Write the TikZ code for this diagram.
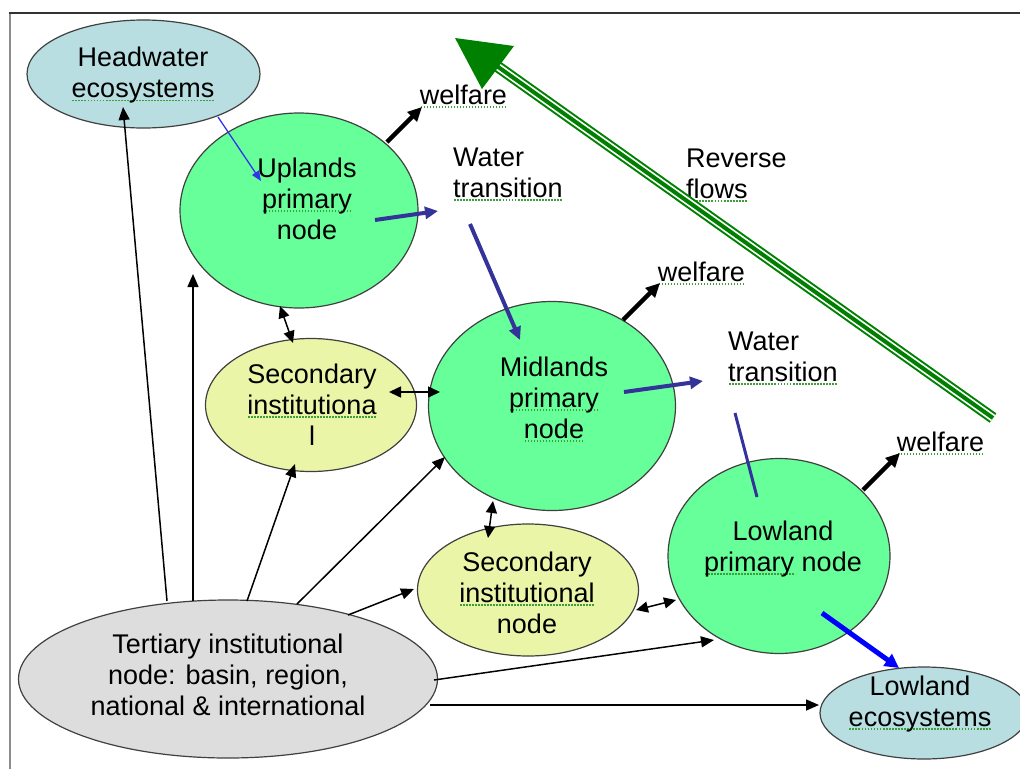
\documentclass[tikz,border=0pt]{standalone}
\usepackage{fontspec}
\setmainfont{Liberation Sans}
\usetikzlibrary{arrows.meta,shapes.geometric,calc}
\definecolor{nodegreen}{HTML}{66FF99}
\definecolor{secyellow}{HTML}{EBF5A8}
\definecolor{ecoblue}{HTML}{B8DEE2}
\definecolor{tertgray}{HTML}{DDDDDD}
\definecolor{flowblue}{HTML}{333399}
\definecolor{thinblue}{HTML}{3333EE}
\definecolor{revgreen}{HTML}{008000}
\definecolor{sqgreen}{HTML}{3C9F3C}
\newsavebox\sqbox
\newcommand\sq[1]{\sbox\sqbox{#1}\rlap{\textcolor{sqgreen}{\hbox to \wd\sqbox{\xleaders\hbox to 3pt{\hss\rule[-3.5pt]{1.8pt}{1.8pt}\hss}\hfill}}}\usebox\sqbox}
\begin{document}
\begin{tikzpicture}[x=1pt,y=-1pt,
  ell/.style={ellipse, draw=black!75, line width=1.2pt, inner sep=0pt},
  txt/.style={font=\fontsize{27}{31}\selectfont, align=center, inner sep=0pt},
  ltxt/.style={txt, align=left, anchor=west},
  thinarr/.style={line width=1.5pt, -{Triangle[length=13pt,width=11pt]}},
  dblarr/.style={line width=1.5pt, {Triangle[length=12pt,width=11pt]}-{Triangle[length=12pt,width=11pt]}},
  welf/.style={line width=4.5pt, -{Triangle[length=14pt,width=13pt]}},
  flow/.style={flowblue, line width=4pt, -{Triangle[length=13pt,width=12pt]}},
]
\useasboundingbox (0,0) rectangle (1020,769);
% frame
\draw[black!45, line width=2pt] (9.5,13) -- (9.5,769);
\draw[black!80, line width=2.5pt] (8.5,13) -- (1020,13);

% shapes
\node[ell, fill=ecoblue, minimum width=233pt, minimum height=108pt] (hw) at (143.5,74) {};
\node[ell, fill=nodegreen, minimum width=238pt, minimum height=195pt] (up) at (299,210.5) {};
\node[ell, fill=secyellow, minimum width=211pt, minimum height=133pt] (secL) at (311,405) {};
\node[ell, fill=nodegreen, minimum width=247pt, minimum height=209pt] (mid) at (552,406) {};
\node[ell, fill=secyellow, minimum width=221pt, minimum height=132pt] (secB) at (528,590) {};
\node[ell, fill=nodegreen, minimum width=222pt, minimum height=195pt] (low) at (779,556) {};
\node[ell, fill=tertgray, minimum width=419pt, minimum height=158pt] (tert) at (228,679) {};
\node[ell, fill=ecoblue, minimum width=208pt, minimum height=92pt] (leco) at (924,713) {};

% texts
\node[txt] (hwT) at (143,75.5) {Headwater\\\sq{ecosystems}};
\node[txt] (upT) at (307,199) {Uplands\\\sq{primary}\\node};
\node[txt] (secLT) at (312,405) {Secondary\\\sq{institutiona}\\l};
\node[txt] (midT) at (554,399) {Midlands\\\sq{primary}\\\sq{node}};
\node[txt] (secBT) at (527,593) {Secondary\\\sq{institutional}\\node};
\node[txt] (lowT) at (783,549) {Lowland\\\sq{primary} node};
\node[txt] (tertT) at (228,675) {Tertiary institutional\\node: basin, region,\\national \& international};
\node[txt] (lecoT) at (920,704) {Lowland\\\sq{ecosystems}};
\node[ltxt] (wt1) at (453,174) {Water\\\sq{transition}};
\node[ltxt] (wt2) at (728,358) {Water\\\sq{transition}};
\node[ltxt] (rf) at (686,175) {Reverse\\\sq{flows}};
\node[txt] (wf1) at (463.5,96) {\sq{welfare}};
\node[txt] (wf2) at (701.5,273) {\sq{welfare}};
\node[txt] (wf3) at (940.5,443) {\sq{welfare}};

% institutional connectors
\draw[thinarr] ($(tert)+(-61,-78)$) -- ($(hw)+(-20.5,33)$);
\draw[thinarr] ($(tert)+(-35,-78)$) -- ($(up)+(-106,63.5)$);
\draw[dblarr] ($(up)+(-19,95.5)$) -- ($(secL)+(-18,-62)$);
\draw[thinarr] ($(tert)+(19,-78)$) -- ($(secL)+(-16,59)$);
\draw[thinarr] ($(tert)+(69,-75)$) -- ($(mid)+(-107,51)$);
\draw[dblarr] ($(secL)+(78,-13)$) -- ($(mid)+(-112,-14)$);
\draw[dblarr] ($(mid)+(-59,95)$) -- ($(secB)+(-40,-52)$);
\draw[thinarr] ($(tert)+(120,-64)$) -- ($(secB)+(-114,-1)$);
\draw[dblarr] ($(secB)+(108,20)$) -- ($(low)+(-103,44)$);
\draw[thinarr] ($(tert)+(206,1)$) -- ($(low)+(-65,84)$);
\draw[thinarr] ($(tert)+(202,26)$) -- ($(leco)+(-105,-8)$);

% water flows
\draw[thinblue, line width=1.3pt, -{Triangle[length=10pt,width=8pt]}] ($(hw)+(74.5,43)$) -- ($(up)+(-38,-29.5)$);
\draw[flow] ($(up)+(76,9.5)$) -- ($(wt1.west)+(-15,37)$);
\draw[flow] ($(wt1.west)+(17,50)$) -- ($(mid)+(-32,-66)$);
\draw[flow] ($(mid)+(72,-14)$) -- ($(wt2.west)+(-25,23)$);
\draw[flowblue, line width=3pt] ($(wt2.west)+(7,55)$) -- ($(low)+(-22,-59)$);
\draw[blue, line width=5pt, -{Triangle[length=14pt,width=14pt]}] ($(low)+(43,57)$) -- ($(leco)+(-25,-45)$);

% welfare
\draw[welf] ($(up)+(88,-68.5)$) -- ($(wf1)+(-41.5,11)$);
\draw[welf] ($(mid)+(71,-86)$) -- ($(wf2)+(-41.5,10)$);
\draw[welf] ($(low)+(84,-66)$) -- ($(wf3)+(-40.5,10)$);

% reverse flows arrow
\coordinate (rfS) at (993,418);
\coordinate (rfB) at (494,64);
\coordinate (rfT) at (455,38);
\coordinate (rfC1) at (514,46);
\coordinate (rfC2) at (482,89);
\draw[revgreen, line width=11.5pt] (rfS) -- (rfB);
\draw[white, line width=7.5pt] (rfS) -- (rfB);
\draw[revgreen, line width=4pt] (rfS) -- (rfB);
\fill[revgreen] (rfT) -- (rfC1) -- (rfC2) -- cycle;
\end{tikzpicture}
\end{document}
